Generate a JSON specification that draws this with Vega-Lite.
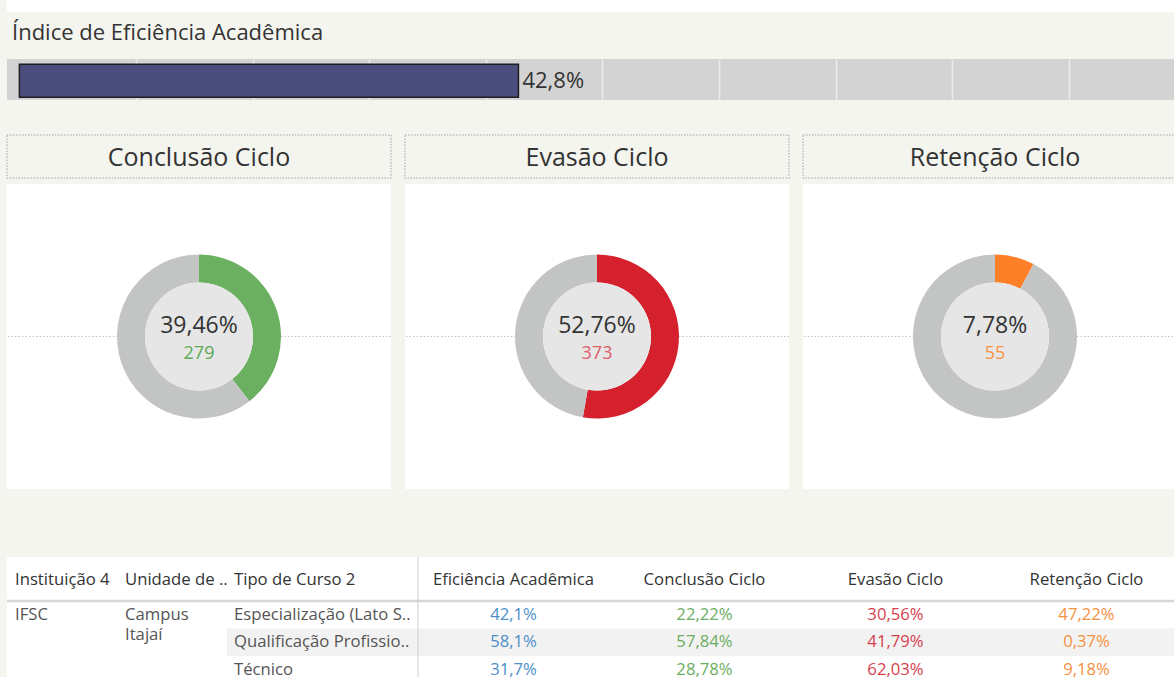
{
  "$schema": "https://vega.github.io/schema/vega-lite/v6.json",
  "background": "#F5F5EF",
  "padding": {"left": 5, "top": 0, "right": 0, "bottom": 0},
  "config": {
    "font": "Open Sans",
    "view": {"stroke": null},
    "locale": {"number": {"decimal": ",", "thousands": ".", "grouping": [3], "currency": ["R$", ""]}}
  },
  "datasets": {
    "indice": [{"indicador": "Índice de Eficiência Acadêmica", "valor": 0.428}],
    "ciclo": [
      {"indicador": "Conclusão Ciclo", "parte": "Conclusão Ciclo", "qtd": 279, "pct": 0.3946, "ordem": 1},
      {"indicador": "Conclusão Ciclo", "parte": "Outros", "qtd": 428, "pct": 0.6054, "ordem": 2},
      {"indicador": "Evasão Ciclo", "parte": "Evasão Ciclo", "qtd": 373, "pct": 0.5276, "ordem": 1},
      {"indicador": "Evasão Ciclo", "parte": "Outros", "qtd": 334, "pct": 0.4724, "ordem": 2},
      {"indicador": "Retenção Ciclo", "parte": "Retenção Ciclo", "qtd": 55, "pct": 0.0778, "ordem": 1},
      {"indicador": "Retenção Ciclo", "parte": "Outros", "qtd": 652, "pct": 0.9222, "ordem": 2}
    ],
    "tabela": [
      {"inst": "IFSC", "unidade": "Campus Itajaí", "tipo": "Especialização (Lato Sensu)", "ef": 0.421, "conc": 0.2222, "ev": 0.3056, "ret": 0.4722},
      {"inst": "IFSC", "unidade": "Campus Itajaí", "tipo": "Qualificação Profissional (FIC)", "ef": 0.581, "conc": 0.5784, "ev": 0.4179, "ret": 0.0037},
      {"inst": "IFSC", "unidade": "Campus Itajaí", "tipo": "Técnico", "ef": 0.317, "conc": 0.2878, "ev": 0.6203, "ret": 0.0918}
    ],
    "colunas": [
      {"coluna": "Instituição 4"},
      {"coluna": "Unidade de Ensino"},
      {"coluna": "Tipo de Curso 2"},
      {"coluna": "Eficiência Acadêmica"},
      {"coluna": "Conclusão Ciclo"},
      {"coluna": "Evasão Ciclo"},
      {"coluna": "Retenção Ciclo"}
    ]
  },
  "spacing": 67,
  "vconcat": [
    {
      "spacing": 34,
      "vconcat": [
        {
          "spacing": 10,
          "vconcat": [
            {
              "width": 1167, "height": 12,
              "view": {"fill": "#FFFFFF"},
              "data": {"values": [{"t": ""}]},
              "mark": {"type": "text"},
              "encoding": {"text": {"field": "t"}}
            },
            {
              "width": 1167, "height": 41,
              "view": {"fill": "#D3D3D3"},
              "title": {"text": "Índice de Eficiência Acadêmica", "anchor": "start", "fontSize": 22, "fontWeight": "normal", "color": "#333333", "offset": 14, "dx": 5},
              "data": {"name": "indice"},
              "layer": [
                {
                  "mark": {"type": "bar", "color": "#4B4E7D", "stroke": "#1E1E1E", "strokeWidth": 1.5},
                  "encoding": {
                    "x": {"field": "valor", "type": "quantitative",
                      "scale": {"domain": [-0.01063, 0.9902], "nice": false, "zero": false},
                      "axis": {"orient": "bottom", "values": [0.1, 0.2, 0.3, 0.4, 0.5, 0.6, 0.7, 0.8, 0.9], "grid": true, "gridColor": "#ECECEC", "gridWidth": 1.5, "labels": false, "ticks": false, "domain": false, "title": null}},
                    "y": {"field": "indicador", "type": "nominal", "scale": {"paddingInner": 0, "paddingOuter": 0.1212, "align": 0.66}, "axis": null}
                  }
                },
                {
                  "mark": {"type": "text", "align": "left", "baseline": "middle", "dx": 4, "fontSize": 22, "color": "#333333"},
                  "encoding": {
                    "x": {"field": "valor", "type": "quantitative"},
                    "y": {"field": "indicador", "type": "nominal"},
                    "text": {"field": "valor", "format": ".1%"}
                  }
                }
              ]
            }
          ]
        },
        {
          "spacing": 12,
          "hconcat": [
            {
              "spacing": 5,
              "vconcat": [
                {
                  "width": 384, "height": 43,
                  "view": {"stroke": "#BDBDBD", "strokeDash": [1.5, 1.5], "strokeWidth": 1.5},
                  "data": {"values": [{"titulo": "Conclusão Ciclo"}]},
                  "mark": {"type": "text", "fontSize": 25, "color": "#333333", "dy": 1},
                  "encoding": {"text": {"field": "titulo"}}
                },
                {
                  "width": 384, "height": 305,
                  "view": {"fill": "#FFFFFF"},
                  "layer": [
                    {
                      "data": {"values": [{"nivel": 0}]},
                      "mark": {"type": "rule", "color": "#C4C4C4", "strokeDash": [1.5, 2], "strokeWidth": 1},
                      "encoding": {"y": {"field": "nivel", "type": "quantitative", "scale": {"domain": [-1, 1]}, "axis": null}}
                    },
                    {
                      "data": {"name": "ciclo"},
                      "transform": [{"filter": "datum.indicador === 'Conclusão Ciclo'"}],
                      "mark": {"type": "arc", "radius": 82, "innerRadius": 54},
                      "encoding": {
                        "theta": {"field": "qtd", "type": "quantitative", "stack": true},
                        "order": {"field": "ordem", "type": "quantitative"},
                        "color": {"field": "parte", "type": "nominal", "legend": null,
                          "scale": {"domain": ["Conclusão Ciclo", "Evasão Ciclo", "Retenção Ciclo", "Outros"], "range": ["#6AB060", "#D5202E", "#FD7F28", "#C3C5C4"]}}
                      }
                    },
                    {
                      "data": {"name": "ciclo"},
                      "transform": [{"filter": "datum.indicador === 'Conclusão Ciclo' && datum.ordem === 1"}],
                      "mark": {"type": "point", "shape": "circle", "filled": true, "size": 11664, "color": "#E6E6E6", "opacity": 1},
                      "encoding": {}
                    },
                    {
                      "data": {"name": "ciclo"},
                      "transform": [{"filter": "datum.indicador === 'Conclusão Ciclo' && datum.ordem === 1"}],
                      "mark": {"type": "text", "fontSize": 23, "dy": -11, "color": "#333333"},
                      "encoding": {"text": {"field": "pct", "format": ".2%"}}
                    },
                    {
                      "data": {"name": "ciclo"},
                      "transform": [{"filter": "datum.indicador === 'Conclusão Ciclo' && datum.ordem === 1"}],
                      "mark": {"type": "text", "fontSize": 18, "dy": 17, "color": "#5DAA55"},
                      "encoding": {"text": {"field": "qtd"}}
                    }
                  ]
                }
              ]
            },
            {
              "spacing": 5,
              "vconcat": [
                {
                  "width": 384, "height": 43,
                  "view": {"stroke": "#BDBDBD", "strokeDash": [1.5, 1.5], "strokeWidth": 1.5},
                  "data": {"values": [{"titulo": "Evasão Ciclo"}]},
                  "mark": {"type": "text", "fontSize": 25, "color": "#333333", "dy": 1},
                  "encoding": {"text": {"field": "titulo"}}
                },
                {
                  "width": 384, "height": 305,
                  "view": {"fill": "#FFFFFF"},
                  "layer": [
                    {
                      "data": {"values": [{"nivel": 0}]},
                      "mark": {"type": "rule", "color": "#C4C4C4", "strokeDash": [1.5, 2], "strokeWidth": 1},
                      "encoding": {"y": {"field": "nivel", "type": "quantitative", "scale": {"domain": [-1, 1]}, "axis": null}}
                    },
                    {
                      "data": {"name": "ciclo"},
                      "transform": [{"filter": "datum.indicador === 'Evasão Ciclo'"}],
                      "mark": {"type": "arc", "radius": 82, "innerRadius": 54},
                      "encoding": {
                        "theta": {"field": "qtd", "type": "quantitative", "stack": true},
                        "order": {"field": "ordem", "type": "quantitative"},
                        "color": {"field": "parte", "type": "nominal", "legend": null}
                      }
                    },
                    {
                      "data": {"name": "ciclo"},
                      "transform": [{"filter": "datum.indicador === 'Evasão Ciclo' && datum.ordem === 1"}],
                      "mark": {"type": "point", "shape": "circle", "filled": true, "size": 11664, "color": "#E6E6E6", "opacity": 1},
                      "encoding": {}
                    },
                    {
                      "data": {"name": "ciclo"},
                      "transform": [{"filter": "datum.indicador === 'Evasão Ciclo' && datum.ordem === 1"}],
                      "mark": {"type": "text", "fontSize": 23, "dy": -11, "color": "#333333"},
                      "encoding": {"text": {"field": "pct", "format": ".2%"}}
                    },
                    {
                      "data": {"name": "ciclo"},
                      "transform": [{"filter": "datum.indicador === 'Evasão Ciclo' && datum.ordem === 1"}],
                      "mark": {"type": "text", "fontSize": 18, "dy": 17, "color": "#E25E69"},
                      "encoding": {"text": {"field": "qtd"}}
                    }
                  ]
                }
              ]
            },
            {
              "spacing": 5,
              "vconcat": [
                {
                  "width": 384, "height": 43,
                  "view": {"stroke": "#BDBDBD", "strokeDash": [1.5, 1.5], "strokeWidth": 1.5},
                  "data": {"values": [{"titulo": "Retenção Ciclo"}]},
                  "mark": {"type": "text", "fontSize": 25, "color": "#333333", "dy": 1},
                  "encoding": {"text": {"field": "titulo"}}
                },
                {
                  "width": 384, "height": 305,
                  "view": {"fill": "#FFFFFF"},
                  "layer": [
                    {
                      "data": {"values": [{"nivel": 0}]},
                      "mark": {"type": "rule", "color": "#C4C4C4", "strokeDash": [1.5, 2], "strokeWidth": 1},
                      "encoding": {"y": {"field": "nivel", "type": "quantitative", "scale": {"domain": [-1, 1]}, "axis": null}}
                    },
                    {
                      "data": {"name": "ciclo"},
                      "transform": [{"filter": "datum.indicador === 'Retenção Ciclo'"}],
                      "mark": {"type": "arc", "radius": 82, "innerRadius": 54},
                      "encoding": {
                        "theta": {"field": "qtd", "type": "quantitative", "stack": true},
                        "order": {"field": "ordem", "type": "quantitative"},
                        "color": {"field": "parte", "type": "nominal", "legend": null}
                      }
                    },
                    {
                      "data": {"name": "ciclo"},
                      "transform": [{"filter": "datum.indicador === 'Retenção Ciclo' && datum.ordem === 1"}],
                      "mark": {"type": "point", "shape": "circle", "filled": true, "size": 11664, "color": "#E6E6E6", "opacity": 1},
                      "encoding": {}
                    },
                    {
                      "data": {"name": "ciclo"},
                      "transform": [{"filter": "datum.indicador === 'Retenção Ciclo' && datum.ordem === 1"}],
                      "mark": {"type": "text", "fontSize": 23, "dy": -11, "color": "#333333"},
                      "encoding": {"text": {"field": "pct", "format": ".2%"}}
                    },
                    {
                      "data": {"name": "ciclo"},
                      "transform": [{"filter": "datum.indicador === 'Retenção Ciclo' && datum.ordem === 1"}],
                      "mark": {"type": "text", "fontSize": 18, "dy": 17, "color": "#F8913C"},
                      "encoding": {"text": {"field": "qtd"}}
                    }
                  ]
                }
              ]
            }
          ]
        }
      ]
    },
    {
      "spacing": 0,
      "bounds": "flush",
      "hconcat": [
        {
          "width": 220, "height": 126.5,
          "view": {"fill": "#FFFFFF"},
          "layer": [
            {
              "data": {"values": [{"c": 1}]},
              "mark": {"type": "rule", "color": "#D6D6D6", "strokeWidth": 2.5},
              "encoding": {"y": {"datum": "Especialização (Lato Sensu)", "type": "nominal", "bandPosition": 0, "axis": null,
                "scale": {"type": "band", "domain": ["Especialização (Lato Sensu)", "Qualificação Profissional (FIC)", "Técnico"], "paddingInner": 0, "paddingOuter": 0.8, "align": 1}}}
            },
            {
              "data": {"name": "colunas"},
              "transform": [{"filter": "datum.coluna === 'Instituição 4' || datum.coluna === 'Unidade de Ensino'"}],
              "mark": {"type": "text", "align": "left", "baseline": "middle", "dx": 8, "fontSize": 16.7, "color": "#333333", "limit": 106, "ellipsis": " .."},
              "encoding": {
                "x": {"field": "coluna", "type": "nominal", "bandPosition": 0, "axis": null,
                  "scale": {"type": "band", "domain": ["Instituição 4", "Unidade de Ensino"], "paddingInner": 0, "paddingOuter": 0}},
                "y": {"datum": "Especialização (Lato Sensu)", "type": "nominal", "bandPosition": -0.764},
                "text": {"field": "coluna"}
              }
            },
            {
              "data": {"name": "tabela"},
              "transform": [{"filter": "datum.tipo === 'Especialização (Lato Sensu)'"}],
              "mark": {"type": "text", "align": "left", "baseline": "middle", "dx": 8, "fontSize": 16.7, "color": "#555555"},
              "encoding": {
                "x": {"datum": "Instituição 4", "type": "nominal", "bandPosition": 0},
                "y": {"field": "tipo", "type": "nominal"},
                "text": {"field": "inst"}
              }
            },
            {
              "data": {"name": "tabela"},
              "transform": [{"filter": "datum.tipo === 'Especialização (Lato Sensu)'"}],
              "mark": {"type": "text", "align": "left", "baseline": "middle", "dx": 8, "fontSize": 16.7, "color": "#555555", "lineBreak": " ", "lineHeight": 20},
              "encoding": {
                "x": {"datum": "Unidade de Ensino", "type": "nominal", "bandPosition": 0},
                "y": {"field": "tipo", "type": "nominal"},
                "text": {"field": "unidade"}
              }
            }
          ]
        },
        {
          "width": 955, "height": 126.5,
          "view": {"fill": "#FFFFFF"},
          "layer": [
            {
              "data": {"name": "tabela"},
              "transform": [{"filter": "datum.tipo === 'Qualificação Profissional (FIC)'"}],
              "mark": {"type": "rect", "color": "#F2F2F2"},
              "encoding": {"y": {"field": "tipo", "type": "nominal", "axis": null,
                "scale": {"type": "band", "domain": ["Especialização (Lato Sensu)", "Qualificação Profissional (FIC)", "Técnico"], "paddingInner": 0, "paddingOuter": 0.8, "align": 1}}}
            },
            {
              "data": {"values": [{"c": 1}]},
              "mark": {"type": "rule", "color": "#D6D6D6", "strokeWidth": 2.5},
              "encoding": {"y": {"datum": "Especialização (Lato Sensu)", "type": "nominal", "bandPosition": 0}}
            },
            {
              "data": {"values": [{"c": 1}]},
              "mark": {"type": "rule", "color": "#CFCFCF", "strokeWidth": 1},
              "encoding": {"x": {"datum": "Tipo de Curso 2", "type": "nominal", "bandPosition": 1, "axis": null,
                "scale": {"type": "band", "domain": ["Tipo de Curso 2", "Eficiência Acadêmica", "Conclusão Ciclo", "Evasão Ciclo", "Retenção Ciclo"], "paddingInner": 0, "paddingOuter": 0}}}
            },
            {
              "data": {"name": "colunas"},
              "transform": [{"filter": "datum.coluna === 'Tipo de Curso 2'"}],
              "mark": {"type": "text", "align": "left", "baseline": "middle", "dx": 7, "fontSize": 16.7, "color": "#333333"},
              "encoding": {
                "x": {"field": "coluna", "type": "nominal", "bandPosition": 0},
                "y": {"datum": "Especialização (Lato Sensu)", "type": "nominal", "bandPosition": -0.764},
                "text": {"field": "coluna"}
              }
            },
            {
              "data": {"name": "colunas"},
              "transform": [{"filter": "indexof(['Eficiência Acadêmica','Conclusão Ciclo','Evasão Ciclo','Retenção Ciclo'], datum.coluna) >= 0"}],
              "mark": {"type": "text", "align": "center", "baseline": "middle", "fontSize": 16.7, "color": "#333333"},
              "encoding": {
                "x": {"field": "coluna", "type": "nominal"},
                "y": {"datum": "Especialização (Lato Sensu)", "type": "nominal", "bandPosition": -0.764},
                "text": {"field": "coluna"}
              }
            },
            {
              "data": {"name": "tabela"},
              "mark": {"type": "text", "align": "left", "baseline": "middle", "dx": 7, "fontSize": 16.7, "color": "#555555", "limit": 178, "ellipsis": ".."},
              "encoding": {
                "x": {"datum": "Tipo de Curso 2", "type": "nominal", "bandPosition": 0},
                "y": {"field": "tipo", "type": "nominal"},
                "text": {"field": "tipo"}
              }
            },
            {
              "data": {"name": "tabela"},
              "mark": {"type": "text", "align": "center", "baseline": "middle", "fontSize": 16.7, "color": "#4D8FC9"},
              "encoding": {
                "x": {"datum": "Eficiência Acadêmica", "type": "nominal"},
                "y": {"field": "tipo", "type": "nominal"},
                "text": {"field": "ef", "format": ".1%"}
              }
            },
            {
              "data": {"name": "tabela"},
              "mark": {"type": "text", "align": "center", "baseline": "middle", "fontSize": 16.7, "color": "#6AAE62"},
              "encoding": {
                "x": {"datum": "Conclusão Ciclo", "type": "nominal"},
                "y": {"field": "tipo", "type": "nominal"},
                "text": {"field": "conc", "format": ".2%"}
              }
            },
            {
              "data": {"name": "tabela"},
              "mark": {"type": "text", "align": "center", "baseline": "middle", "fontSize": 16.7, "color": "#D6404D"},
              "encoding": {
                "x": {"datum": "Evasão Ciclo", "type": "nominal"},
                "y": {"field": "tipo", "type": "nominal"},
                "text": {"field": "ev", "format": ".2%"}
              }
            },
            {
              "data": {"name": "tabela"},
              "mark": {"type": "text", "align": "center", "baseline": "middle", "fontSize": 16.7, "color": "#F5913E"},
              "encoding": {
                "x": {"datum": "Retenção Ciclo", "type": "nominal"},
                "y": {"field": "tipo", "type": "nominal"},
                "text": {"field": "ret", "format": ".2%"}
              }
            }
          ]
        }
      ]
    }
  ]
}
